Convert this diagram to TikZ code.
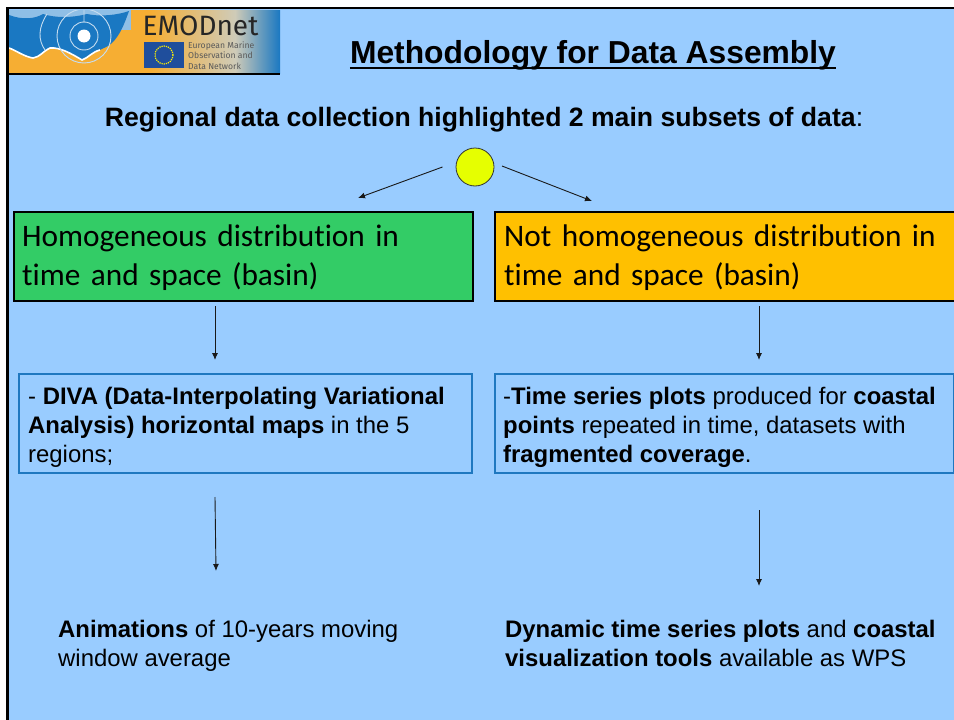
\documentclass[tikz,border=0pt]{standalone}
\usepackage{fontspec}
\setmainfont{Liberation Sans}
\newfontfamily\carl[Ligatures=NoCommon]{Carlito}
\newfontfamily\logofont{Fira Sans}
\usetikzlibrary{arrows.meta}
\definecolor{bgblue}{HTML}{99CCFF}
\definecolor{boxgreen}{HTML}{33CC66}
\definecolor{boxorange}{HTML}{FFC000}
\definecolor{boxline}{HTML}{1F78C0}
\definecolor{sunyellow}{HTML}{E6FF00}
\definecolor{logoblue}{HTML}{1A78C2}
\definecolor{logosand}{HTML}{F6AE33}
\definecolor{logosky}{HTML}{8FBFE6}
\definecolor{logomid}{HTML}{CFCBB8}
\definecolor{eublue}{HTML}{1F4E9C}
\tikzset{
 x=1pt,y=-1pt,
 arrowline/.style={draw=black!90,line width=0.9pt,-{Latex[length=7pt,width=6pt]}},
 titlebox/.style={draw=black,line width=2.4pt,anchor=north west,inner sep=0pt,minimum height=89pt},
 textbox/.style={draw=boxline,line width=1.6pt,fill=none,anchor=north west,inner sep=0pt,minimum height=99pt},
 headtxt/.style={anchor=north west,align=left,font=\carl\fontsize{31.3}{39}\selectfont,text width=445pt,inner sep=0pt},
 bodytxt/.style={anchor=north west,align=left,font=\fontsize{23.9}{29}\selectfont,inner sep=0pt},
}
\begin{document}
\begin{tikzpicture}
\useasboundingbox (0,0) rectangle (954,720);
\fill[white] (0,0) rectangle (954,720);
\fill[bgblue] (7,8) rectangle (954,720);
\draw[black,line width=2.6pt] (7.5,720) -- (7.5,8) -- (954,8);
% logo
\begin{scope}
\clip (9,10) rectangle (280,73);
\fill[logosand] (9,10) rectangle (150,73);
\shade[left color=logosand,right color=logomid] (150,10) rectangle (235,73);
\shade[left color=logomid,right color=logoblue] (235,10) rectangle (280,73);
\fill[logosky] (9,10) rectangle (131,30);
\fill[logoblue] (9,15) .. controls (22,20) and (35,19) .. (43,14) .. controls (55,18) and (72,18) .. (87,14) .. controls (100,17) and (118,15) .. (129,11) .. controls (124,25) and (120,35) .. (112,43) .. controls (108,47) and (103,48) .. (100,50) .. controls (92,52) and (88,58) .. (82,60) .. controls (72,54) and (60,47) .. (50,48) .. controls (42,52) and (40,57) .. (33,58) .. controls (25,57) and (15,50) .. (9,48) -- cycle;
\draw[white,line width=1.6pt] (9,48) .. controls (15,50) and (25,57) .. (33,58) .. controls (40,57) and (42,52) .. (50,48) .. controls (60,47) and (72,54) .. (82,60) .. controls (88,58) and (92,52) .. (100,50);
\draw[white!75!logoblue,line width=0.9pt] (84,36) circle (14pt) (84,36) circle (27pt) (84,10) -- (84,22);
\draw[white!75!logoblue,line width=0.9pt] (47,14) .. controls (38,28) and (38,40) .. (45,50);
\fill[white] (84,36) circle (6.5pt);
\end{scope}
\node[anchor=center,inner sep=0pt,font=\logofont\fontsize{28}{28}\selectfont,text=black!85] (logotext) at (200.5,26) {EMODnet};
\fill[eublue] (144,42) rectangle (184,68);
\draw[yellow,densely dotted,line width=1.2pt] (164,55) circle (9pt);
\node[anchor=west,inner sep=0pt,align=left,font=\logofont\fontsize{8.6}{10.3}\selectfont,text=black!65] (logosub) at (188,55.5) {European Marine\\Observation and\\Data Network};
\draw[black,line width=2pt] (9,74) -- (280,74);
% title
\node[inner sep=0pt,anchor=base,font=\bfseries\fontsize{31.8}{31.8}\selectfont] (title) at (593,63.5) {Methodology for Data Assembly};
\draw[black,line width=2.6pt] ([yshift=-4.5pt]title.base west) -- ([yshift=-4.5pt]title.base east);
\node[inner sep=0pt,anchor=center,font=\fontsize{26.6}{26.6}\selectfont] (subtitle) at (484,120) {\textbf{Regional data collection highlighted 2 main subsets of data}:};
% sun
\node[circle,draw=black!80,fill=sunyellow,line width=0.8pt,minimum size=38pt,inner sep=0pt] (sun) at (475,167) {};
\coordinate (sl) at (442.5,167);
\coordinate (sr) at (502,166);
% title boxes
\node[titlebox,fill=boxgreen,minimum width=459pt] (green) at (12.5,211) {};
\node[titlebox,fill=boxorange,minimum width=470pt] (orange) at (494,211) {};
\node[headtxt] (greent) at (22,225) {Homogeneous distribution in\\time and space (basin)};
\node[headtxt] (oranget) at (504,225) {Not homogeneous distribution in\\time and space (basin)};
\coordinate (gt) at (358,198);
\coordinate (ot) at (592,201);
\draw[arrowline] (sl) -- (gt);
\draw[arrowline] (sr) -- (ot);
% body boxes
\node[textbox,minimum width=453pt] (b1) at (18,373) {};
\node[textbox,minimum width=459pt] (b2) at (494,373) {};
\node[bodytxt] (b1t) at (28,387) {- \textbf{DIVA (Data-Interpolating Variational}\\\textbf{Analysis) horizontal maps} in the 5\\regions;};
\node[bodytxt] (b2t) at (503,387) {-\textbf{Time series plots} produced for \textbf{coastal}\\\textbf{points} repeated in time, datasets with\\\textbf{fragmented coverage}.};
\coordinate (a1s) at (215,306);
\coordinate (a1e) at (215,360);
\coordinate (a2s) at (759,306);
\coordinate (a2e) at (759,360);
\draw[arrowline] (a1s) -- (a1e);
\draw[arrowline] (a2s) -- (a2e);
\coordinate (a3s) at (215,497);
\coordinate (a3e) at (216,571);
\coordinate (a4s) at (759,510);
\coordinate (a4e) at (759,586);
\draw[arrowline] (a3s) -- (a3e);
\draw[arrowline] (a4s) -- (a4e);
% results
\node[bodytxt] (r1) at (58,620) {\textbf{Animations} of 10-years moving\\window average};
\node[bodytxt] (r2) at (505,620) {\textbf{Dynamic time series plots} and \textbf{coastal}\\\textbf{visualization tools} available as WPS};
\end{tikzpicture}
\end{document}
